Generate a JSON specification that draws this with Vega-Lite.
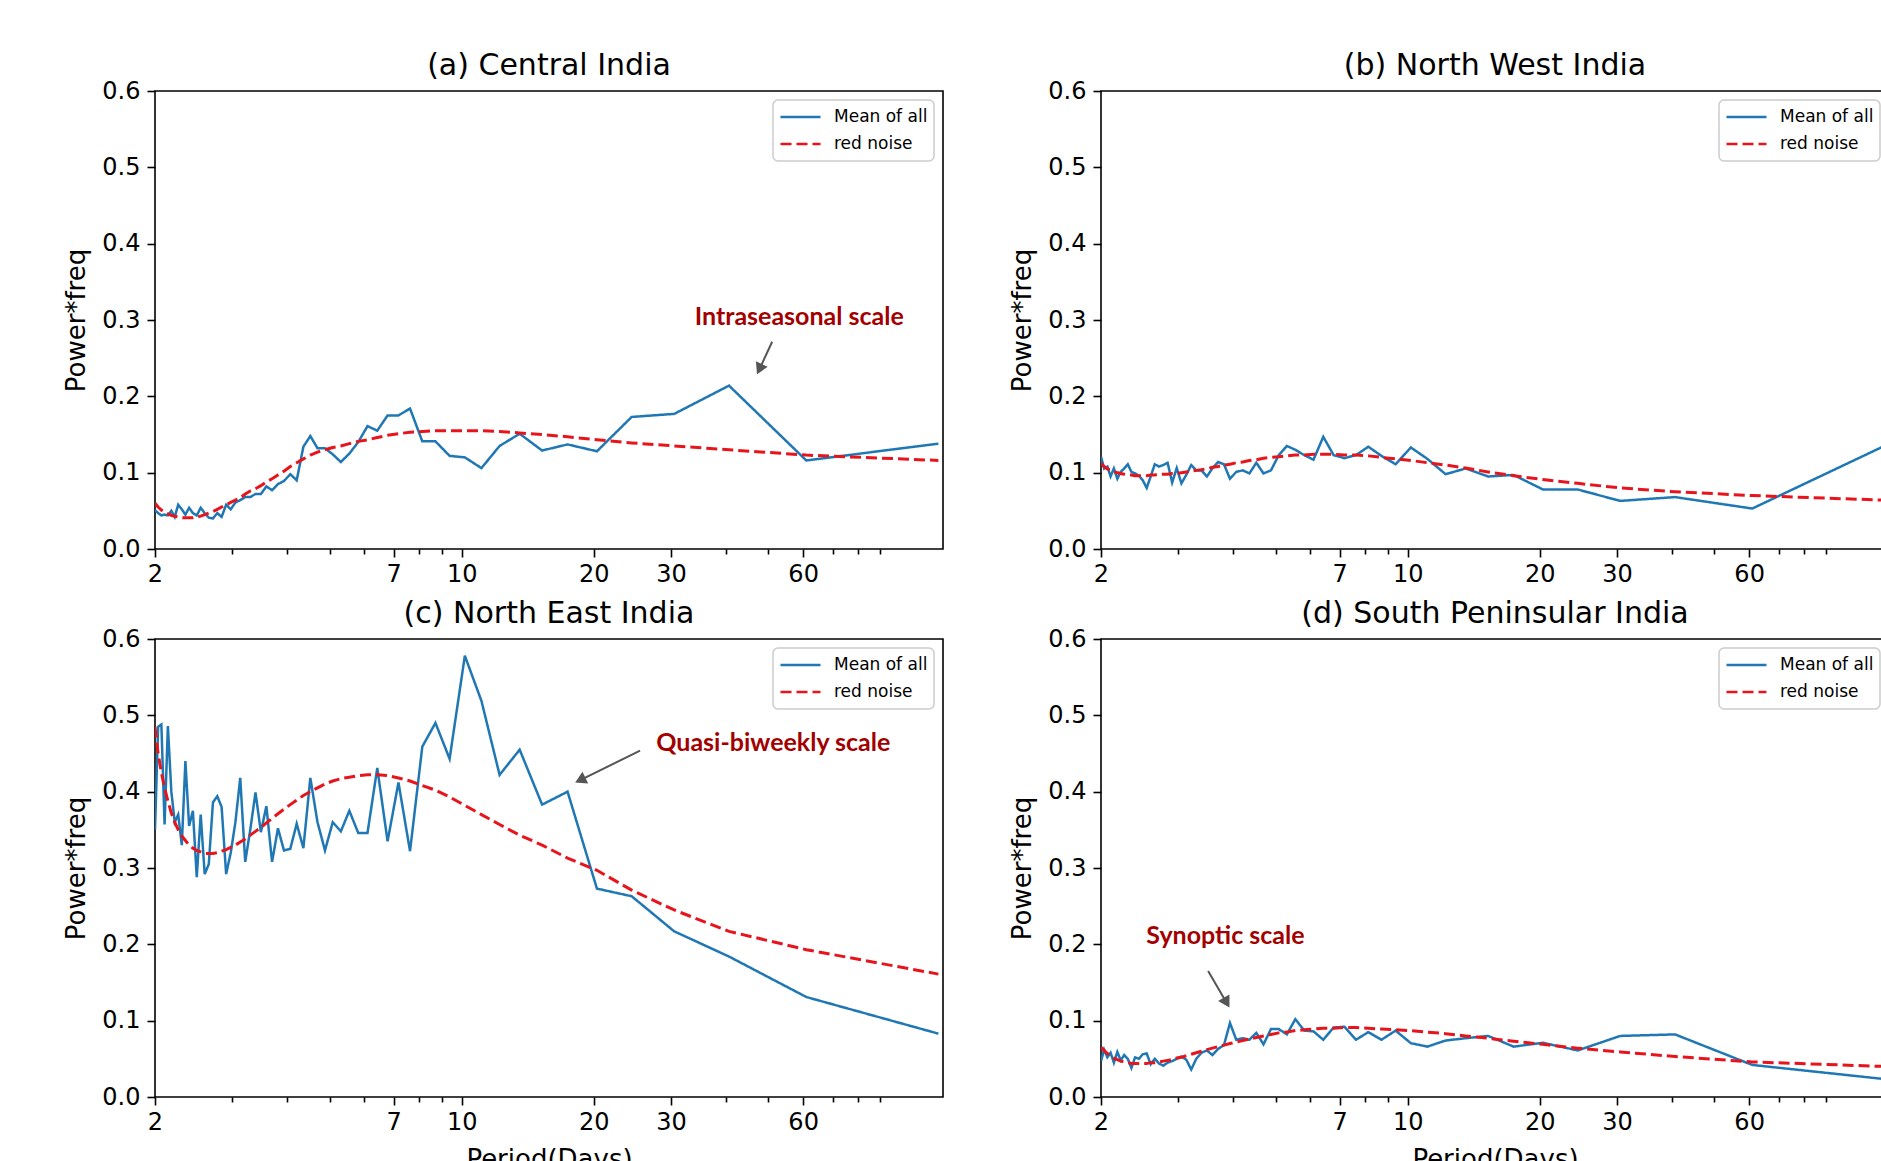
{
"$schema": "https://vega.github.io/schema/vega-lite/v6.json",
"background": "white",
"padding": {"left": 63, "top": 50, "right": 0, "bottom": 0},
"columns": 2,
"spacing": {"row": 90, "column": 158},
"bounds": "flush",
"resolve": {"scale": {"color": "independent", "strokeDash": "independent", "x": "independent", "y": "independent"}, "legend": {"color": "independent", "strokeDash": "independent"}},
"config": {
  "font": "DejaVu Sans",
  "view": {"stroke": "black", "strokeWidth": 1.6},
  "axis": {"domain": false, "grid": false, "tickColor": "black", "tickWidth": 1.6, "labelColor": "black", "labelFont": "DejaVu Sans", "labelFontSize": 24, "titleFont": "DejaVu Sans", "titleFontSize": 26, "titleFontWeight": "normal", "titleColor": "black"},
  "title": {"font": "DejaVu Sans", "fontSize": 30, "fontWeight": "normal", "color": "black", "anchor": "middle", "offset": -2, "baseline": "alphabetic", "frame": "group"},
  "legend": {"orient": "top-right", "offset": 9, "padding": 6, "strokeColor": "#cccccc", "strokeWidth": 1.5, "fillColor": "white", "cornerRadius": 5, "symbolType": "stroke", "symbolSize": 1600, "symbolStrokeWidth": 2.5, "labelFont": "DejaVu Sans", "labelFontSize": 17, "labelColor": "black", "labelOffset": 12, "rowPadding": 5, "clipHeight": 22}
},
"datasets": {
"a": [
{"p":2.0,"Mean of all":0.051,"red noise":0.060},{"p":2.033,"Mean of all":0.047,"red noise":0.055},{"p":2.068,"Mean of all":0.044,"red noise":0.051},{"p":2.103,"Mean of all":0.045,"red noise":0.048},{"p":2.14,"Mean of all":0.044,"red noise":0.046},{"p":2.179,"Mean of all":0.050,"red noise":0.044},{"p":2.218,"Mean of all":0.042,"red noise":0.043},{"p":2.259,"Mean of all":0.058,"red noise":0.042},{"p":2.302,"Mean of all":0.052,"red noise":0.041},{"p":2.346,"Mean of all":0.045,"red noise":0.041},{"p":2.392,"Mean of all":0.054,"red noise":0.041},{"p":2.44,"Mean of all":0.047,"red noise":0.041},{"p":2.49,"Mean of all":0.044,"red noise":0.042},{"p":2.542,"Mean of all":0.054,"red noise":0.043},{"p":2.596,"Mean of all":0.047,"red noise":0.045},{"p":2.652,"Mean of all":0.041,"red noise":0.047},{"p":2.711,"Mean of all":0.040,"red noise":0.049},{"p":2.773,"Mean of all":0.047,"red noise":0.052},{"p":2.837,"Mean of all":0.042,"red noise":0.055},{"p":2.905,"Mean of all":0.058,"red noise":0.058},{"p":2.976,"Mean of all":0.052,"red noise":0.061},{"p":3.05,"Mean of all":0.061,"red noise":0.064},{"p":3.128,"Mean of all":0.064,"red noise":0.067},{"p":3.211,"Mean of all":0.068,"red noise":0.072},{"p":3.297,"Mean of all":0.068,"red noise":0.076},{"p":3.389,"Mean of all":0.072,"red noise":0.079},{"p":3.486,"Mean of all":0.072,"red noise":0.083},{"p":3.588,"Mean of all":0.082,"red noise":0.088},{"p":3.697,"Mean of all":0.077,"red noise":0.092},{"p":3.813,"Mean of all":0.085,"red noise":0.097},{"p":3.935,"Mean of all":0.089,"red noise":0.102},{"p":4.067,"Mean of all":0.098,"red noise":0.108},{"p":4.207,"Mean of all":0.090,"red noise":0.113},{"p":4.357,"Mean of all":0.134,"red noise":0.118},{"p":4.519,"Mean of all":0.148,"red noise":0.123},{"p":4.692,"Mean of all":0.132,"red noise":0.127},{"p":4.88,"Mean of all":0.132,"red noise":0.130},{"p":5.083,"Mean of all":0.124,"red noise":0.133},{"p":5.304,"Mean of all":0.114,"red noise":0.135},{"p":5.545,"Mean of all":0.125,"red noise":0.138},{"p":5.81,"Mean of all":0.140,"red noise":0.141},{"p":6.1,"Mean of all":0.161,"red noise":0.143},{"p":6.421,"Mean of all":0.155,"red noise":0.146},{"p":6.778,"Mean of all":0.175,"red noise":0.149},{"p":7.176,"Mean of all":0.175,"red noise":0.151},{"p":7.625,"Mean of all":0.184,"red noise":0.153},{"p":8.133,"Mean of all":0.141,"red noise":0.154},{"p":8.714,"Mean of all":0.141,"red noise":0.155},{"p":9.385,"Mean of all":0.122,"red noise":0.155},{"p":10.167,"Mean of all":0.120,"red noise":0.155},{"p":11.091,"Mean of all":0.106,"red noise":0.155},{"p":12.2,"Mean of all":0.135,"red noise":0.154},{"p":13.556,"Mean of all":0.151,"red noise":0.152},{"p":15.25,"Mean of all":0.129,"red noise":0.150},{"p":17.429,"Mean of all":0.137,"red noise":0.147},{"p":20.333,"Mean of all":0.128,"red noise":0.143},{"p":24.4,"Mean of all":0.173,"red noise":0.139},{"p":30.5,"Mean of all":0.177,"red noise":0.135},{"p":40.667,"Mean of all":0.214,"red noise":0.130},{"p":61,"Mean of all":0.116,"red noise":0.123},{"p":122,"Mean of all":0.138,"red noise":0.116}
],
"b": [
{"p":2.0,"Mean of all":0.121,"red noise":0.112},{"p":2.033,"Mean of all":0.1055,"red noise":0.108},{"p":2.068,"Mean of all":0.108,"red noise":0.105},{"p":2.103,"Mean of all":0.095,"red noise":0.103},{"p":2.14,"Mean of all":0.1055,"red noise":0.101},{"p":2.179,"Mean of all":0.092,"red noise":0.100},{"p":2.218,"Mean of all":0.101,"red noise":0.099},{"p":2.259,"Mean of all":0.1055,"red noise":0.098},{"p":2.302,"Mean of all":0.111,"red noise":0.097},{"p":2.346,"Mean of all":0.101,"red noise":0.097},{"p":2.392,"Mean of all":0.099,"red noise":0.096},{"p":2.44,"Mean of all":0.096,"red noise":0.096},{"p":2.49,"Mean of all":0.090,"red noise":0.096},{"p":2.542,"Mean of all":0.080,"red noise":0.096},{"p":2.596,"Mean of all":0.095,"red noise":0.097},{"p":2.652,"Mean of all":0.111,"red noise":0.097},{"p":2.711,"Mean of all":0.108,"red noise":0.098},{"p":2.773,"Mean of all":0.110,"red noise":0.098},{"p":2.837,"Mean of all":0.113,"red noise":0.098},{"p":2.905,"Mean of all":0.087,"red noise":0.099},{"p":2.976,"Mean of all":0.106,"red noise":0.099},{"p":3.05,"Mean of all":0.086,"red noise":0.100},{"p":3.128,"Mean of all":0.097,"red noise":0.101},{"p":3.211,"Mean of all":0.110,"red noise":0.102},{"p":3.297,"Mean of all":0.103,"red noise":0.103},{"p":3.389,"Mean of all":0.103,"red noise":0.104},{"p":3.486,"Mean of all":0.095,"red noise":0.105},{"p":3.588,"Mean of all":0.1055,"red noise":0.107},{"p":3.697,"Mean of all":0.114,"red noise":0.108},{"p":3.813,"Mean of all":0.111,"red noise":0.110},{"p":3.935,"Mean of all":0.092,"red noise":0.111},{"p":4.067,"Mean of all":0.101,"red noise":0.113},{"p":4.207,"Mean of all":0.103,"red noise":0.114},{"p":4.357,"Mean of all":0.099,"red noise":0.116},{"p":4.519,"Mean of all":0.113,"red noise":0.117},{"p":4.692,"Mean of all":0.099,"red noise":0.119},{"p":4.88,"Mean of all":0.103,"red noise":0.120},{"p":5.083,"Mean of all":0.123,"red noise":0.121},{"p":5.304,"Mean of all":0.135,"red noise":0.122},{"p":5.545,"Mean of all":0.130,"red noise":0.123},{"p":5.81,"Mean of all":0.123,"red noise":0.123},{"p":6.1,"Mean of all":0.117,"red noise":0.124},{"p":6.421,"Mean of all":0.147,"red noise":0.124},{"p":6.778,"Mean of all":0.123,"red noise":0.124},{"p":7.176,"Mean of all":0.119,"red noise":0.123},{"p":7.625,"Mean of all":0.123,"red noise":0.123},{"p":8.133,"Mean of all":0.134,"red noise":0.122},{"p":8.714,"Mean of all":0.122,"red noise":0.120},{"p":9.385,"Mean of all":0.111,"red noise":0.118},{"p":10.167,"Mean of all":0.133,"red noise":0.116},{"p":11.091,"Mean of all":0.118,"red noise":0.113},{"p":12.2,"Mean of all":0.098,"red noise":0.110},{"p":13.556,"Mean of all":0.1055,"red noise":0.106},{"p":15.25,"Mean of all":0.095,"red noise":0.101},{"p":17.429,"Mean of all":0.097,"red noise":0.096},{"p":20.333,"Mean of all":0.078,"red noise":0.091},{"p":24.4,"Mean of all":0.078,"red noise":0.086},{"p":30.5,"Mean of all":0.063,"red noise":0.080},{"p":40.667,"Mean of all":0.068,"red noise":0.075},{"p":61,"Mean of all":0.053,"red noise":0.070},{"p":122,"Mean of all":0.135,"red noise":0.064}
],
"c": [
{"p":2.0,"Mean of all":0.35,"red noise":0.485},{"p":2.033,"Mean of all":0.485,"red noise":0.450},{"p":2.068,"Mean of all":0.488,"red noise":0.425},{"p":2.103,"Mean of all":0.357,"red noise":0.405},{"p":2.14,"Mean of all":0.486,"red noise":0.388},{"p":2.179,"Mean of all":0.40,"red noise":0.372},{"p":2.218,"Mean of all":0.36,"red noise":0.360},{"p":2.259,"Mean of all":0.37,"red noise":0.350},{"p":2.302,"Mean of all":0.33,"red noise":0.342},{"p":2.346,"Mean of all":0.44,"red noise":0.336},{"p":2.392,"Mean of all":0.355,"red noise":0.330},{"p":2.44,"Mean of all":0.375,"red noise":0.326},{"p":2.49,"Mean of all":0.288,"red noise":0.323},{"p":2.542,"Mean of all":0.37,"red noise":0.321},{"p":2.596,"Mean of all":0.292,"red noise":0.319},{"p":2.652,"Mean of all":0.305,"red noise":0.319},{"p":2.711,"Mean of all":0.386,"red noise":0.319},{"p":2.773,"Mean of all":0.394,"red noise":0.320},{"p":2.837,"Mean of all":0.38,"red noise":0.322},{"p":2.905,"Mean of all":0.292,"red noise":0.324},{"p":2.976,"Mean of all":0.32,"red noise":0.327},{"p":3.05,"Mean of all":0.36,"red noise":0.330},{"p":3.128,"Mean of all":0.418,"red noise":0.334},{"p":3.211,"Mean of all":0.308,"red noise":0.338},{"p":3.297,"Mean of all":0.35,"red noise":0.343},{"p":3.389,"Mean of all":0.399,"red noise":0.348},{"p":3.486,"Mean of all":0.347,"red noise":0.353},{"p":3.588,"Mean of all":0.381,"red noise":0.359},{"p":3.697,"Mean of all":0.308,"red noise":0.365},{"p":3.813,"Mean of all":0.352,"red noise":0.371},{"p":3.935,"Mean of all":0.323,"red noise":0.377},{"p":4.067,"Mean of all":0.325,"red noise":0.383},{"p":4.207,"Mean of all":0.358,"red noise":0.389},{"p":4.357,"Mean of all":0.326,"red noise":0.395},{"p":4.519,"Mean of all":0.418,"red noise":0.400},{"p":4.692,"Mean of all":0.36,"red noise":0.405},{"p":4.88,"Mean of all":0.323,"red noise":0.410},{"p":5.083,"Mean of all":0.36,"red noise":0.414},{"p":5.304,"Mean of all":0.348,"red noise":0.417},{"p":5.545,"Mean of all":0.375,"red noise":0.419},{"p":5.81,"Mean of all":0.346,"red noise":0.421},{"p":6.1,"Mean of all":0.346,"red noise":0.422},{"p":6.421,"Mean of all":0.431,"red noise":0.422},{"p":6.778,"Mean of all":0.335,"red noise":0.421},{"p":7.176,"Mean of all":0.412,"red noise":0.418},{"p":7.625,"Mean of all":0.322,"red noise":0.414},{"p":8.133,"Mean of all":0.459,"red noise":0.408},{"p":8.714,"Mean of all":0.490,"red noise":0.402},{"p":9.385,"Mean of all":0.443,"red noise":0.393},{"p":10.167,"Mean of all":0.578,"red noise":0.382},{"p":11.091,"Mean of all":0.519,"red noise":0.370},{"p":12.2,"Mean of all":0.422,"red noise":0.357},{"p":13.556,"Mean of all":0.455,"red noise":0.343},{"p":15.25,"Mean of all":0.383,"red noise":0.330},{"p":17.429,"Mean of all":0.400,"red noise":0.313},{"p":20.333,"Mean of all":0.273,"red noise":0.297},{"p":24.4,"Mean of all":0.263,"red noise":0.271},{"p":30.5,"Mean of all":0.217,"red noise":0.245},{"p":40.667,"Mean of all":0.184,"red noise":0.217},{"p":61,"Mean of all":0.131,"red noise":0.193},{"p":122,"Mean of all":0.083,"red noise":0.161}
],
"d": [
{"p":2.0,"Mean of all":0.047,"red noise":0.065},{"p":2.033,"Mean of all":0.062,"red noise":0.061},{"p":2.068,"Mean of all":0.052,"red noise":0.057},{"p":2.103,"Mean of all":0.058,"red noise":0.054},{"p":2.14,"Mean of all":0.045,"red noise":0.051},{"p":2.179,"Mean of all":0.059,"red noise":0.049},{"p":2.218,"Mean of all":0.048,"red noise":0.047},{"p":2.259,"Mean of all":0.055,"red noise":0.046},{"p":2.302,"Mean of all":0.050,"red noise":0.045},{"p":2.346,"Mean of all":0.038,"red noise":0.044},{"p":2.392,"Mean of all":0.052,"red noise":0.044},{"p":2.44,"Mean of all":0.050,"red noise":0.044},{"p":2.49,"Mean of all":0.056,"red noise":0.044},{"p":2.542,"Mean of all":0.057,"red noise":0.044},{"p":2.596,"Mean of all":0.043,"red noise":0.045},{"p":2.652,"Mean of all":0.050,"red noise":0.045},{"p":2.711,"Mean of all":0.044,"red noise":0.046},{"p":2.773,"Mean of all":0.041,"red noise":0.047},{"p":2.837,"Mean of all":0.045,"red noise":0.048},{"p":2.905,"Mean of all":0.047,"red noise":0.049},{"p":2.976,"Mean of all":0.050,"red noise":0.051},{"p":3.05,"Mean of all":0.053,"red noise":0.052},{"p":3.128,"Mean of all":0.049,"red noise":0.054},{"p":3.211,"Mean of all":0.036,"red noise":0.056},{"p":3.297,"Mean of all":0.050,"red noise":0.058},{"p":3.389,"Mean of all":0.058,"red noise":0.060},{"p":3.486,"Mean of all":0.061,"red noise":0.062},{"p":3.588,"Mean of all":0.055,"red noise":0.064},{"p":3.697,"Mean of all":0.063,"red noise":0.066},{"p":3.813,"Mean of all":0.068,"red noise":0.068},{"p":3.935,"Mean of all":0.097,"red noise":0.070},{"p":4.067,"Mean of all":0.075,"red noise":0.072},{"p":4.207,"Mean of all":0.077,"red noise":0.074},{"p":4.357,"Mean of all":0.075,"red noise":0.076},{"p":4.519,"Mean of all":0.084,"red noise":0.078},{"p":4.692,"Mean of all":0.069,"red noise":0.080},{"p":4.88,"Mean of all":0.089,"red noise":0.082},{"p":5.083,"Mean of all":0.089,"red noise":0.084},{"p":5.304,"Mean of all":0.082,"red noise":0.085},{"p":5.545,"Mean of all":0.102,"red noise":0.087},{"p":5.81,"Mean of all":0.087,"red noise":0.088},{"p":6.1,"Mean of all":0.086,"red noise":0.089},{"p":6.421,"Mean of all":0.075,"red noise":0.090},{"p":6.778,"Mean of all":0.091,"red noise":0.090},{"p":7.176,"Mean of all":0.092,"red noise":0.091},{"p":7.625,"Mean of all":0.075,"red noise":0.091},{"p":8.133,"Mean of all":0.085,"red noise":0.090},{"p":8.714,"Mean of all":0.075,"red noise":0.089},{"p":9.385,"Mean of all":0.087,"red noise":0.088},{"p":10.167,"Mean of all":0.0705,"red noise":0.087},{"p":11.091,"Mean of all":0.066,"red noise":0.085},{"p":12.2,"Mean of all":0.074,"red noise":0.083},{"p":13.556,"Mean of all":0.077,"red noise":0.080},{"p":15.25,"Mean of all":0.080,"red noise":0.077},{"p":17.429,"Mean of all":0.066,"red noise":0.073},{"p":20.333,"Mean of all":0.071,"red noise":0.069},{"p":24.4,"Mean of all":0.061,"red noise":0.064},{"p":30.5,"Mean of all":0.080,"red noise":0.059},{"p":40.667,"Mean of all":0.082,"red noise":0.053},{"p":61,"Mean of all":0.042,"red noise":0.046},{"p":122,"Mean of all":0.0235,"red noise":0.040}
]
},
"concat": [
{
 "width": 788, "height": 458,
 "title": "(a) Central India",
 "layer": [
  {"data": {"name": "a"}, "transform": [{"fold": ["Mean of all", "red noise"], "as": ["key", "value"]}, {"filter": "datum.key === 'Mean of all'"}],
   "mark": {"type": "line", "strokeWidth": 2.5, "clip": true},
   "encoding": {
    "x": {"field": "p", "type": "quantitative", "scale": {"type": "log", "domain": [2, 125], "nice": false}, "axis": {"title": null, "values": [2,3,4,5,6,7,8,9,10,20,30,40,50,60,70,80,90], "labelExpr": "indexof([2,7,10,20,30,60], datum.value) >= 0 ? '' + datum.value : ''", "tickSize": {"condition": {"test": "indexof([2,7,10,20,30,60], datum.value) >= 0", "value": 8}, "value": 5}, "labelOverlap": false, "labelFlush": false, "labelPadding": 5}},
    "y": {"field": "value", "type": "quantitative", "scale": {"domain": [0, 0.6], "nice": false}, "axis": {"title": "Power*freq", "values": [0,0.1,0.2,0.3,0.4,0.5,0.6], "format": ".1f", "tickSize": 8, "labelPadding": 7, "titlePadding": 12, "labelFlush": false}},
    "color": {"field": "key", "type": "nominal", "scale": {"domain": ["Mean of all", "red noise"], "range": ["#1f77b4", "#e8141c"]}, "legend": {"title": null}},
    "strokeDash": {"field": "key", "type": "nominal", "scale": {"domain": ["Mean of all", "red noise"], "range": [[1, 0], [11, 5]]}, "legend": {"title": null}}
   }},
  {"data": {"name": "a"}, "transform": [{"fold": ["Mean of all", "red noise"], "as": ["key", "value"]}, {"filter": "datum.key === 'red noise'"}],
   "mark": {"type": "line", "strokeWidth": 3, "clip": true},
   "encoding": {
    "x": {"field": "p", "type": "quantitative"},
    "y": {"field": "value", "type": "quantitative"},
    "color": {"field": "key", "type": "nominal", "legend": {"title": null}},
    "strokeDash": {"field": "key", "type": "nominal", "legend": {"title": null}}
   }},
  {"data": {"values": [{"p": 51.0, "value": 0.2715, "p2": 47.7, "v2": 0.2356}]},
   "mark": {"type": "rule", "color": "#555555", "strokeWidth": 2},
   "encoding": {"x": {"field": "p", "type": "quantitative"}, "y": {"field": "value", "type": "quantitative"}, "x2": {"field": "p2"}, "y2": {"field": "v2"}}},
  {"data": {"values": [{"p": 47.7, "value": 0.2356}]},
   "mark": {"type": "point", "shape": "triangle-up", "filled": true, "size": 170, "color": "#555555", "opacity": 1, "angle": 205},
   "encoding": {"x": {"field": "p", "type": "quantitative"}, "y": {"field": "value", "type": "quantitative"}}},
  {"data": {"values": [{"p": 58.8, "value": 0.3033, "t": "Intraseasonal scale"}]},
   "mark": {"type": "text", "font": "Lato", "fontWeight": "bold", "fontSize": 25, "color": "#a30000", "align": "center", "baseline": "middle"},
   "encoding": {"x": {"field": "p", "type": "quantitative"}, "y": {"field": "value", "type": "quantitative"}, "text": {"field": "t"}}}
 ]
},
{
 "width": 788, "height": 458,
 "title": "(b) North West India",
 "layer": [
  {"data": {"name": "b"}, "transform": [{"fold": ["Mean of all", "red noise"], "as": ["key", "value"]}, {"filter": "datum.key === 'Mean of all'"}],
   "mark": {"type": "line", "strokeWidth": 2.5, "clip": true},
   "encoding": {
    "x": {"field": "p", "type": "quantitative", "scale": {"type": "log", "domain": [2, 125], "nice": false}, "axis": {"title": null, "values": [2,3,4,5,6,7,8,9,10,20,30,40,50,60,70,80,90], "labelExpr": "indexof([2,7,10,20,30,60], datum.value) >= 0 ? '' + datum.value : ''", "tickSize": {"condition": {"test": "indexof([2,7,10,20,30,60], datum.value) >= 0", "value": 8}, "value": 5}, "labelOverlap": false, "labelFlush": false, "labelPadding": 5}},
    "y": {"field": "value", "type": "quantitative", "scale": {"domain": [0, 0.6], "nice": false}, "axis": {"title": "Power*freq", "values": [0,0.1,0.2,0.3,0.4,0.5,0.6], "format": ".1f", "tickSize": 8, "labelPadding": 7, "titlePadding": 12, "labelFlush": false}},
    "color": {"field": "key", "type": "nominal", "scale": {"domain": ["Mean of all", "red noise"], "range": ["#1f77b4", "#e8141c"]}, "legend": {"title": null}},
    "strokeDash": {"field": "key", "type": "nominal", "scale": {"domain": ["Mean of all", "red noise"], "range": [[1, 0], [11, 5]]}, "legend": {"title": null}}
   }},
  {"data": {"name": "b"}, "transform": [{"fold": ["Mean of all", "red noise"], "as": ["key", "value"]}, {"filter": "datum.key === 'red noise'"}],
   "mark": {"type": "line", "strokeWidth": 3, "clip": true},
   "encoding": {
    "x": {"field": "p", "type": "quantitative"},
    "y": {"field": "value", "type": "quantitative"},
    "color": {"field": "key", "type": "nominal", "legend": {"title": null}},
    "strokeDash": {"field": "key", "type": "nominal", "legend": {"title": null}}
   }}
 ]
},
{
 "width": 788, "height": 458,
 "title": "(c) North East India",
 "layer": [
  {"data": {"name": "c"}, "transform": [{"fold": ["Mean of all", "red noise"], "as": ["key", "value"]}, {"filter": "datum.key === 'Mean of all'"}],
   "mark": {"type": "line", "strokeWidth": 2.5, "clip": true},
   "encoding": {
    "x": {"field": "p", "type": "quantitative", "scale": {"type": "log", "domain": [2, 125], "nice": false}, "axis": {"title": "Period(Days)", "titlePadding": 12, "values": [2,3,4,5,6,7,8,9,10,20,30,40,50,60,70,80,90], "labelExpr": "indexof([2,7,10,20,30,60], datum.value) >= 0 ? '' + datum.value : ''", "tickSize": {"condition": {"test": "indexof([2,7,10,20,30,60], datum.value) >= 0", "value": 8}, "value": 5}, "labelOverlap": false, "labelFlush": false, "labelPadding": 5}},
    "y": {"field": "value", "type": "quantitative", "scale": {"domain": [0, 0.6], "nice": false}, "axis": {"title": "Power*freq", "values": [0,0.1,0.2,0.3,0.4,0.5,0.6], "format": ".1f", "tickSize": 8, "labelPadding": 7, "titlePadding": 12, "labelFlush": false}},
    "color": {"field": "key", "type": "nominal", "scale": {"domain": ["Mean of all", "red noise"], "range": ["#1f77b4", "#e8141c"]}, "legend": {"title": null}},
    "strokeDash": {"field": "key", "type": "nominal", "scale": {"domain": ["Mean of all", "red noise"], "range": [[1, 0], [11, 5]]}, "legend": {"title": null}}
   }},
  {"data": {"name": "c"}, "transform": [{"fold": ["Mean of all", "red noise"], "as": ["key", "value"]}, {"filter": "datum.key === 'red noise'"}],
   "mark": {"type": "line", "strokeWidth": 3, "clip": true},
   "encoding": {
    "x": {"field": "p", "type": "quantitative"},
    "y": {"field": "value", "type": "quantitative"},
    "color": {"field": "key", "type": "nominal", "legend": {"title": null}},
    "strokeDash": {"field": "key", "type": "nominal", "legend": {"title": null}}
   }},
  {"data": {"values": [{"p": 25.5, "value": 0.4537, "p2": 18.63, "v2": 0.4152}]},
   "mark": {"type": "rule", "color": "#555555", "strokeWidth": 2},
   "encoding": {"x": {"field": "p", "type": "quantitative"}, "y": {"field": "value", "type": "quantitative"}, "x2": {"field": "p2"}, "y2": {"field": "v2"}}},
  {"data": {"values": [{"p": 18.63, "value": 0.4152}]},
   "mark": {"type": "point", "shape": "triangle-up", "filled": true, "size": 170, "color": "#555555", "opacity": 1, "angle": 244},
   "encoding": {"x": {"field": "p", "type": "quantitative"}, "y": {"field": "value", "type": "quantitative"}}},
  {"data": {"values": [{"p": 51.3, "value": 0.4634, "t": "Quasi-biweekly scale"}]},
   "mark": {"type": "text", "font": "Lato", "fontWeight": "bold", "fontSize": 25, "color": "#a30000", "align": "center", "baseline": "middle"},
   "encoding": {"x": {"field": "p", "type": "quantitative"}, "y": {"field": "value", "type": "quantitative"}, "text": {"field": "t"}}}
 ]
},
{
 "width": 788, "height": 458,
 "title": "(d) South Peninsular India",
 "layer": [
  {"data": {"name": "d"}, "transform": [{"fold": ["Mean of all", "red noise"], "as": ["key", "value"]}, {"filter": "datum.key === 'Mean of all'"}],
   "mark": {"type": "line", "strokeWidth": 2.5, "clip": true},
   "encoding": {
    "x": {"field": "p", "type": "quantitative", "scale": {"type": "log", "domain": [2, 125], "nice": false}, "axis": {"title": "Period(Days)", "titlePadding": 12, "values": [2,3,4,5,6,7,8,9,10,20,30,40,50,60,70,80,90], "labelExpr": "indexof([2,7,10,20,30,60], datum.value) >= 0 ? '' + datum.value : ''", "tickSize": {"condition": {"test": "indexof([2,7,10,20,30,60], datum.value) >= 0", "value": 8}, "value": 5}, "labelOverlap": false, "labelFlush": false, "labelPadding": 5}},
    "y": {"field": "value", "type": "quantitative", "scale": {"domain": [0, 0.6], "nice": false}, "axis": {"title": "Power*freq", "values": [0,0.1,0.2,0.3,0.4,0.5,0.6], "format": ".1f", "tickSize": 8, "labelPadding": 7, "titlePadding": 12, "labelFlush": false}},
    "color": {"field": "key", "type": "nominal", "scale": {"domain": ["Mean of all", "red noise"], "range": ["#1f77b4", "#e8141c"]}, "legend": {"title": null}},
    "strokeDash": {"field": "key", "type": "nominal", "scale": {"domain": ["Mean of all", "red noise"], "range": [[1, 0], [11, 5]]}, "legend": {"title": null}}
   }},
  {"data": {"name": "d"}, "transform": [{"fold": ["Mean of all", "red noise"], "as": ["key", "value"]}, {"filter": "datum.key === 'red noise'"}],
   "mark": {"type": "line", "strokeWidth": 3, "clip": true},
   "encoding": {
    "x": {"field": "p", "type": "quantitative"},
    "y": {"field": "value", "type": "quantitative"},
    "color": {"field": "key", "type": "nominal", "legend": {"title": null}},
    "strokeDash": {"field": "key", "type": "nominal", "legend": {"title": null}}
   }},
  {"data": {"values": [{"p": 3.509, "value": 0.1651, "p2": 3.866, "v2": 0.1236}]},
   "mark": {"type": "rule", "color": "#555555", "strokeWidth": 2},
   "encoding": {"x": {"field": "p", "type": "quantitative"}, "y": {"field": "value", "type": "quantitative"}, "x2": {"field": "p2"}, "y2": {"field": "v2"}}},
  {"data": {"values": [{"p": 3.866, "value": 0.1236}]},
   "mark": {"type": "point", "shape": "triangle-up", "filled": true, "size": 170, "color": "#555555", "opacity": 1, "angle": 150},
   "encoding": {"x": {"field": "p", "type": "quantitative"}, "y": {"field": "value", "type": "quantitative"}}},
  {"data": {"values": [{"p": 3.843, "value": 0.2104, "t": "Synoptic scale"}]},
   "mark": {"type": "text", "font": "Lato", "fontWeight": "bold", "fontSize": 25, "color": "#a30000", "align": "center", "baseline": "middle"},
   "encoding": {"x": {"field": "p", "type": "quantitative"}, "y": {"field": "value", "type": "quantitative"}, "text": {"field": "t"}}}
 ]
}
]
}
